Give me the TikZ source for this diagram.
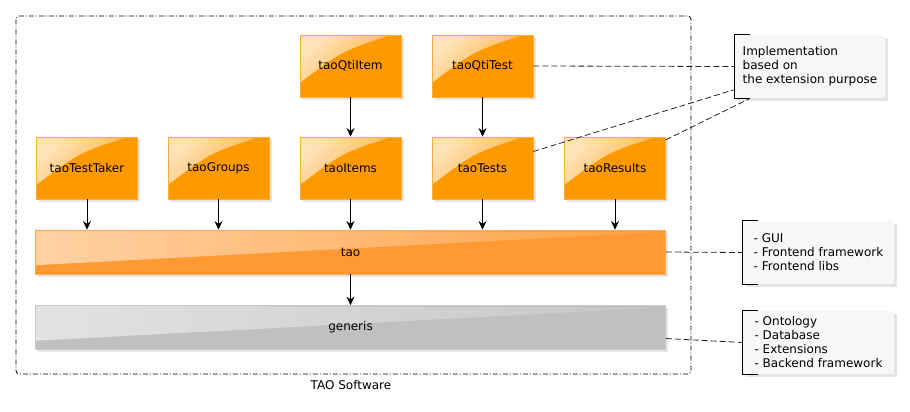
\documentclass[tikz,border=0pt]{standalone}
\usepackage{fontspec}
\setmainfont{DejaVu Sans}
\usetikzlibrary{arrows.meta,shadows,calc}

\definecolor{extorange}{RGB}{255,153,0}
\definecolor{taoorange}{RGB}{255,153,51}
\definecolor{generisgrey}{RGB}{192,192,192}
\definecolor{notegrey}{RGB}{247,247,247}

\tikzset{
	softshadow/.style={drop shadow={shadow xshift=2pt, shadow yshift=-2pt, opacity=0.14, fill=black!70}},
	ext/.style={minimum width=75.75pt, minimum height=46.5pt, inner sep=0pt, fill=extorange, draw=extorange!80!white, line width=0.4pt, softshadow,
		path picture={\shade[top color=white!72!extorange, bottom color=white!10!extorange, shading angle=45]
			(path picture bounding box.north west) -- ($(path picture bounding box.north west)!0.9!(path picture bounding box.north east)$)
			.. controls ($(path picture bounding box.north west)+(42,16)$) .. ($(path picture bounding box.north west)!0.77!(path picture bounding box.south west)$) -- cycle;}},
	layer/.style={minimum width=472.5pt, minimum height=33pt, inner sep=0pt, fill=#1, draw=#1!85!white, line width=0.4pt, softshadow,
		path picture={\shade[left color=white!55!#1, right color=white!8!#1]
			(path picture bounding box.north west) -- ($(path picture bounding box.north east)+(-4,2)$)
			-- ($(path picture bounding box.north west)!0.8!(path picture bounding box.south west)$) -- cycle;}},
	note/.style={fill=notegrey, minimum height=47.25pt, inner sep=0pt, align=left, softshadow},
	arr/.style={-{Stealth[length=6.5pt, width=6pt]}, line width=0.7pt},
	conn/.style={dash pattern=on 4.5pt off 2.25pt, line width=0.6pt, black!85},
	frame/.style={dash pattern=on 3.75pt off 1.5pt on 0.75pt off 1.5pt, line width=0.6pt, rounded corners=2.5pt}
}

\begin{document}
\begin{tikzpicture}[x=0.75pt, y=-0.75pt, font=\fontsize{9pt}{10.5pt}\selectfont]
	\path[fill=white, use as bounding box] (0,0) rectangle (910,411);

	% Marco del software
		\draw[frame] (16,16) rectangle (691,374);
		\node (software) at (351,385) {TAO Software};

	% Extensiones QTI
		\node[ext] (taoQtiItem) at (350.5,66) {taoQtiItem};
		\node[ext] (taoQtiTest) at (482.5,66) {taoQtiTest};

	% Extensiones
		\node[ext] (taoTestTaker) at (87,168) {taoTestTaker};
		\node[ext] (taoGroups) at (218.5,168) {taoGroups};
		\node[ext] (taoItems) at (350.5,168) {taoItems};
		\node[ext] (taoTests) at (482.5,168) {taoTests};
		\node[ext] (taoResults) at (615,168) {taoResults};

	% Capas
		\node[layer=taoorange] (tao) at (350.5,252) {tao};
		\node[layer=generisgrey] (generis) at (350.5,327.5) {generis};

	% Dependencias
		\draw[arr] (taoQtiItem) -- (taoItems);
		\draw[arr] (taoQtiTest) -- (taoTests);
		\draw[arr] (taoTestTaker) -- (taoTestTaker |- tao.north);
		\draw[arr] (taoGroups) -- (taoGroups |- tao.north);
		\draw[arr] (taoItems) -- (taoItems |- tao.north);
		\draw[arr] (taoTests) -- (taoTests |- tao.north);
		\draw[arr] (taoResults) -- (taoResults |- tao.north);
		\draw[arr] (tao) -- (generis);

	% Notas
		\node[note, minimum width=112.5pt] (note1) at (810,66.5) {Implementation\\based on\\the extension purpose};
		\node[note, minimum width=113.25pt] (note2) at (818.5,252.5) {- GUI\\- Frontend framework\\- Frontend libs};
		\node[note, minimum width=113.25pt] (note3) at (818.5,342.5) {- Ontology\\- Database\\- Extensions\\- Backend framework};

		\draw ([xshift=11.25pt]note1.north west) -- (note1.north west) -- (note1.south west) -- ([xshift=11.25pt]note1.south west);
		\draw ([xshift=11.25pt]note2.north west) -- (note2.north west) -- (note2.south west) -- ([xshift=11.25pt]note2.south west);
		\draw ([xshift=11.25pt]note3.north west) -- (note3.north west) -- (note3.south west) -- ([xshift=11.25pt]note3.south west);

	% Conectores de las notas
		\draw[conn] (taoQtiTest.east) -- (note1.west);
		\draw[conn] (taoTests.18) -- (note1.197);
		\draw[conn] (taoResults.29) -- (note1.208);
		\draw[conn] (tao.east) -- (note2.west);
		\draw[conn] (generis.-2) -- (note3.west);
\end{tikzpicture}
\end{document}
